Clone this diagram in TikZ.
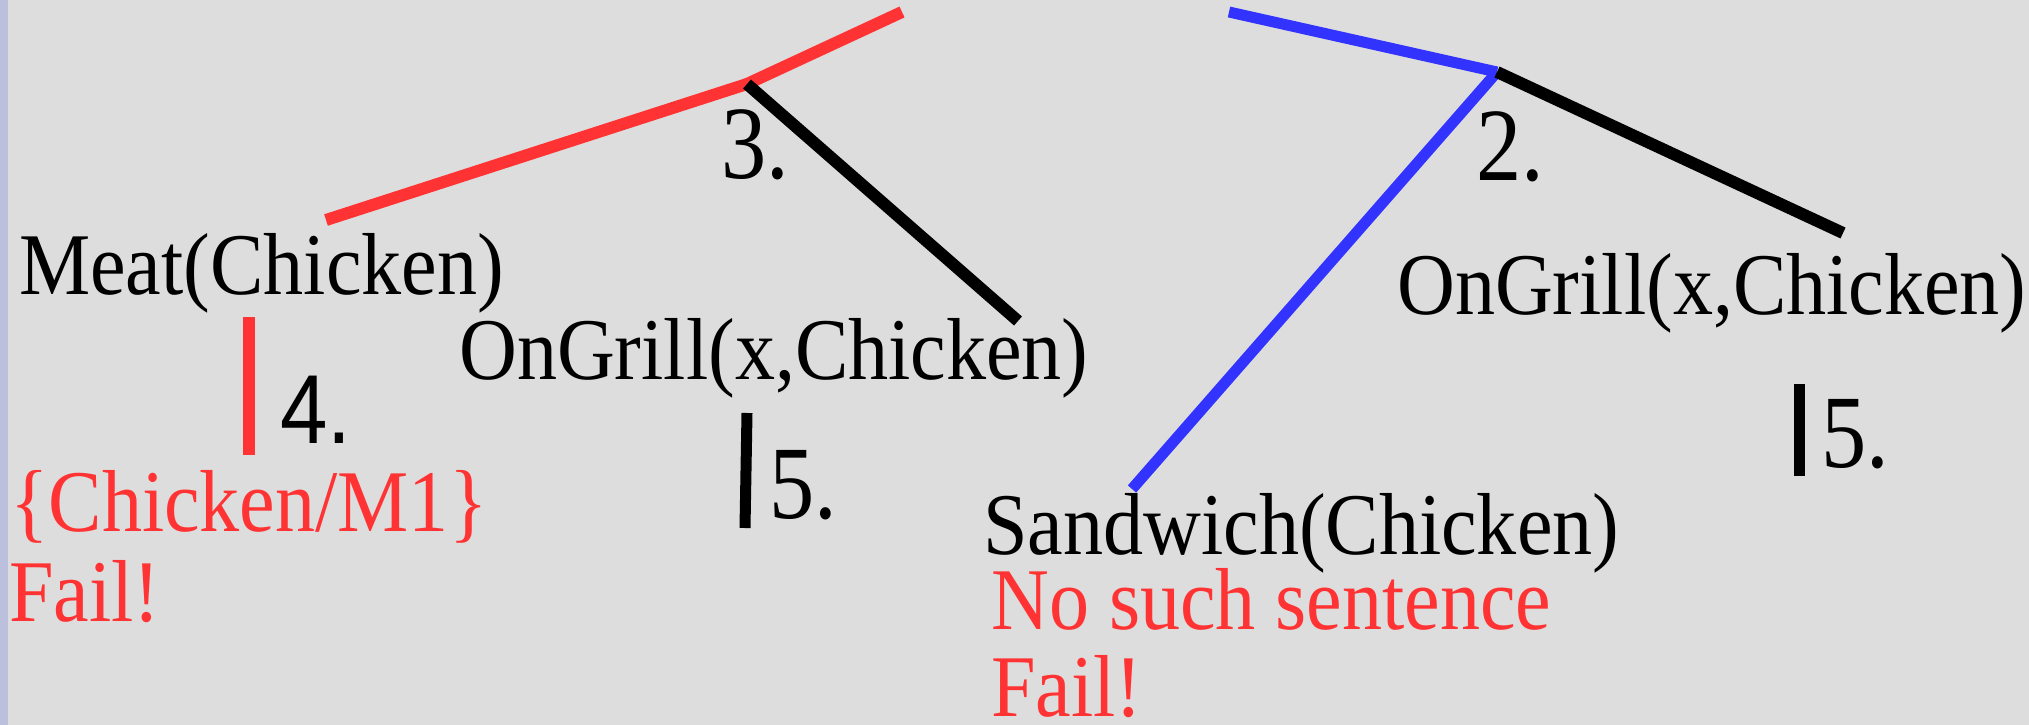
\documentclass[tikz,border=0pt]{standalone}
\usepackage{fontspec}
\setmainfont{Liberation Serif}[FakeStretch=0.91]
\newfontfamily\digitfont{Liberation Serif}[FakeStretch=0.87]
\newfontfamily\digitsans{Liberation Sans}[FakeStretch=0.87]
\definecolor{bg}{HTML}{DDDDDD}
\definecolor{strip}{HTML}{BBC0DC}
\definecolor{redl}{HTML}{FF3333}
\definecolor{bluel}{HTML}{3333FF}
\tikzset{
  lbl/.style={anchor=base west, inner sep=0pt, font=\fontsize{88}{100}\selectfont},
  redlbl/.style={lbl, text=redl},
  num/.style={anchor=base west, inner sep=0pt, font=\digitfont\fontsize{104}{110}\selectfont},
  sansnum/.style={anchor=base west, inner sep=0pt, font=\digitsans\fontsize{98}{110}\selectfont},
  redline/.style={draw=redl, line width=12pt},
  blueline/.style={draw=bluel, line width=11pt},
  blackline/.style={draw=black, line width=12pt},
  thinbar/.style={draw=black, line width=11pt},
}
\begin{document}
\begin{tikzpicture}[x=1pt,y=-1pt]
\useasboundingbox (0,0) rectangle (2029,725);
\fill[bg] (0,0) rectangle (2029,725);
\fill[strip] (0,0) rectangle (8,725);

% coordinates
\coordinate (rtop) at (902,12);
\coordinate (n3) at (747,84);
\coordinate (meatEnd) at (326,220);
\coordinate (og1End) at (1018,321);
\coordinate (btop) at (1229,12);
\coordinate (n2) at (1497,72);
\coordinate (sandEnd) at (1132,489);
\coordinate (og2End) at (1843,233);
\coordinate (b4t) at (249,317);
\coordinate (b4b) at (249,455);
\coordinate (b5t) at (747,413);
\coordinate (b5b) at (745,528);
\coordinate (b6t) at (1799,384);
\coordinate (b6b) at (1799,476);

% lines
\draw[redline] (rtop) -- (n3);
\draw[redline] (n3) -- (meatEnd);
\draw[blackline] (n3) -- (og1End);
\draw[blueline] (btop) -- (n2);
\draw[blueline] (n2) -- (sandEnd);
\draw[blackline] (n2) -- (og2End);
\draw[draw=redl, line width=12pt] (b4t) -- (b4b);
\draw[thinbar] (b5t) -- (b5b);
\draw[thinbar] (b6t) -- (b6b);

% labels
\node[lbl] (meat) at (19,294) {Meat(Chicken)};
\node[lbl] (og1) at (459,379) {OnGrill(x,Chicken)};
\node[lbl] (og2) at (1397,314) {OnGrill(x,Chicken)};
\node[lbl] (sand) at (983,554) {Sandwich(Chicken)};
\node[redlbl] (subst) at (10,531) {\{Chicken/M1\}};
\node[redlbl] (fail1) at (9,621) {Fail!};
\node[redlbl] (nosuch) at (991,629) {No such sentence};
\node[redlbl] (fail2) at (991,716) {Fail!};

\node[num] (s3) at (721,178) {3.};
\node[num] (s2) at (1476,180) {2.};
\node[sansnum] (s4) at (280,443) {4.};
\node[num] (s5a) at (769,518) {5.};
\node[num] (s5b) at (1821,467) {5.};
\end{tikzpicture}
\end{document}
